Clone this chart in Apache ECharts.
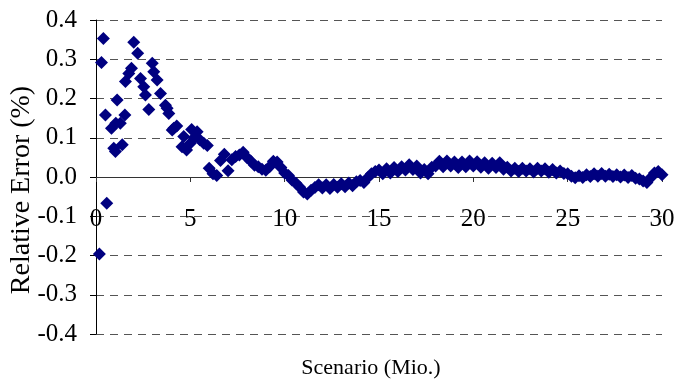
<!DOCTYPE html>
<html>
<head>
<meta charset="utf-8">
<style>
  html, body { margin: 0; padding: 0; background: #fff; }
  #chart { width: 677px; height: 383px; }
</style>
<script src="https://cdn.jsdelivr.net/npm/echarts@6/dist/echarts.min.js"></script>
</head>
<body>
<div id="chart"></div>
<script>
// Scenario (Mio.) values
const scenario = [
  0.18, 0.29, 0.39, 0.50, 0.57, 0.82, 0.94, 1.03, 1.05, 1.12, 1.29, 1.39, 1.53,
  1.56, 1.74, 1.88, 2.00, 2.21, 2.36, 2.53, 2.62, 2.80, 2.98, 3.06, 3.24, 3.42,
  3.68, 3.77, 3.86, 4.04, 4.12, 4.28, 4.56, 4.65, 4.80, 5.00, 5.07, 5.20, 5.36,
  5.50, 5.71, 5.90,
  6.0, 6.2, 6.4, 6.6, 6.8, 7.0, 7.2, 7.4, 7.6, 7.8, 8.0, 8.2, 8.4, 8.6, 8.8,
  9.0, 9.2, 9.4, 9.6, 9.8, 10.0, 10.2, 10.4, 10.6, 10.8, 11.0, 11.2, 11.4, 11.6,
  11.8, 12.0, 12.2, 12.4, 12.6, 12.8, 13.0, 13.2, 13.4, 13.6, 13.8, 14.0, 14.2,
  14.4, 14.6, 14.8, 15.0, 15.2, 15.4, 15.6, 15.8, 16.0, 16.2, 16.4, 16.6, 16.8,
  17.0, 17.2, 17.4, 17.6, 17.8, 18.0, 18.2, 18.4, 18.6, 18.8, 19.0, 19.2, 19.4,
  19.6, 19.8, 20.0, 20.2, 20.4, 20.6, 20.8, 21.0, 21.2, 21.4, 21.6, 21.8, 22.0,
  22.2, 22.4, 22.6, 22.8, 23.0, 23.2, 23.4, 23.6, 23.8, 24.0, 24.2, 24.4, 24.6,
  24.8, 25.0, 25.2, 25.4, 25.6, 25.8, 26.0, 26.2, 26.4, 26.6, 26.8, 27.0, 27.2,
  27.4, 27.6, 27.8, 28.0, 28.2, 28.4, 28.6, 28.8, 29.0, 29.2, 29.4, 29.6, 29.8,
  30.0
];
// Relative Error (%) values
const relErr = [
  -0.196, 0.292, 0.353, 0.158, -0.067, 0.124, 0.073, 0.065, 0.137, 0.196, 0.137, 0.082, 0.158,
  0.243, 0.264, 0.277, 0.343, 0.315, 0.251, 0.230, 0.209, 0.172, 0.290, 0.268, 0.247, 0.213,
  0.183, 0.175, 0.162, 0.120, 0.124, 0.130, 0.077, 0.103, 0.069, 0.086, 0.121, 0.100, 0.115,
  0.095, 0.086, 0.080,
  0.022, 0.008, 0.004, 0.042, 0.058, 0.016, 0.044, 0.052, 0.056, 0.063, 0.050, 0.041, 0.030, 0.026, 0.020,
  0.017, 0.026, 0.040, 0.038, 0.024, 0.010, 0.004, -0.008, -0.016, -0.026, -0.038, -0.043, -0.034, -0.027,
  -0.020, -0.028, -0.020, -0.029, -0.019, -0.026, -0.017, -0.025, -0.015, -0.022, -0.012, -0.009, -0.014,
  -0.002, 0.008, 0.014, 0.018, 0.008, 0.021, 0.010, 0.024, 0.014, 0.026, 0.018, 0.031, 0.019,
  0.028, 0.010, 0.019, 0.008, 0.025, 0.028, 0.040, 0.026, 0.041, 0.028, 0.038, 0.024, 0.038,
  0.026, 0.041, 0.028, 0.039, 0.025, 0.036, 0.022, 0.035, 0.024, 0.036, 0.020, 0.025, 0.015,
  0.022, 0.014, 0.022, 0.015, 0.021, 0.013, 0.022, 0.015, 0.021, 0.012, 0.019, 0.010, 0.015,
  0.009, 0.008, 0.002, -0.002, 0.003, -0.001, 0.006, 0.001, 0.008, 0.002, 0.009, 0.002, 0.007,
  0.001, 0.006, 0.000, 0.005, -0.001, 0.004, -0.003, -0.005, -0.010, -0.014, -0.002, 0.010, 0.014,
  0.006
];

const FONT = 'Liberation Serif';
const chart = echarts.init(document.getElementById('chart'));
chart.setOption({
  animation: false,
  backgroundColor: '#ffffff',
  grid: { left: 96, right: 15, top: 20, bottom: 49, containLabel: false, outerBoundsMode: 'none' },
  xAxis: {
    type: 'value',
    min: 0, max: 30, interval: 5,
    position: 'bottom',
    offset: -157,
    name: 'Scenario (Mio.)',
    nameLocation: 'middle',
    nameGap: 180,
    nameMoveOverlap: false,
    nameTextStyle: { fontFamily: FONT, fontSize: 22, color: '#000', padding: [0, 16, 0, 0] },
    axisLine: { onZero: false, lineStyle: { color: '#333', width: 1 } },
    axisTick: { show: true, inside: false, length: 5, lineStyle: { color: '#333' } },
    axisLabel: { fontFamily: FONT, fontSize: 25, color: '#000', margin: 30 },
    splitLine: { show: false }
  },
  yAxis: {
    type: 'value',
    min: -0.4, max: 0.4, interval: 0.1,
    name: 'Relative Error (%)',
    nameLocation: 'middle',
    nameGap: 60,
    nameMoveOverlap: false,
    nameTextStyle: { fontFamily: FONT, fontSize: 28, color: '#000', padding: [0, 26, 0, 0] },
    axisLine: { show: true, onZero: false, lineStyle: { color: '#000', width: 1 } },
    axisTick: { show: true, inside: false, length: 6, lineStyle: { color: '#000' } },
    axisLabel: {
      fontFamily: FONT, fontSize: 25, color: '#000', margin: 19,
      formatter: v => v.toFixed(1)
    },
    splitLine: { show: true, lineStyle: { color: '#555', type: [8, 6], width: 1 } }
  },
  series: [{
    type: 'scatter',
    symbol: 'diamond',
    symbolSize: 13,
    itemStyle: { color: '#000080', opacity: 1 },
    data: scenario.map((x, i) => [x, relErr[i]])
  }]
});
</script>
</body>
</html>
